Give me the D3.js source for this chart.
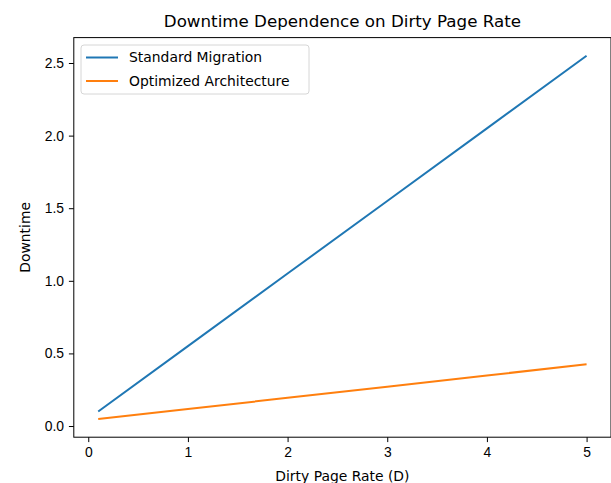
<!DOCTYPE html>
<html>
<head>
<meta charset="utf-8">
<script src="https://cdn.jsdelivr.net/npm/d3@7"></script>
<style>
  body { margin: 0; background: #fff; }
  svg { font-family: "DejaVu Sans", sans-serif; }
  .tick text { font-size: 13.9px; fill: #000; }
  .tick line, .domain { stroke: #000; }
</style>
</head>
<body>
<svg class="downtime" width="611" height="483"></svg>
<script>
// dirty page rate samples and downtime
var rates = [0.1, 1, 2, 3, 4, 5];
var standardMigration = [0.1, 0.55, 1.05, 1.55, 2.05, 2.55];
var optimizedArchitecture = [0.048, 0.117, 0.194, 0.271, 0.348, 0.425];
var seriesNames = ["Standard Migration", "Optimized Architecture"];
var xTicks = [0, 1, 2, 3, 4, 5];
var yTicks = [0, 0.5, 1, 1.5, 2, 2.5];

var margin = {top: 37.6, bottom: 45.8, left: 73.8, right: 0},
    width = 611 - margin.left - margin.right,
    height = 483 - margin.top - margin.bottom;

var colors = ["#1f77b4", "#ff7f0e"];

var svg = d3.select(".downtime");
var g = svg.append("g")
    .attr("transform", "translate(" + margin.left + "," + margin.top + ")");

var x = d3.scaleLinear().domain([-0.145, 5.245]).range([0, width]);
var y = d3.scaleLinear().domain([-0.077, 2.675]).range([height, 0]);

var line = d3.line()
    .x(function(d) { return x(d[0]); })
    .y(function(d) { return y(d[1]); });

[standardMigration, optimizedArchitecture].forEach(function(vals, i) {
  g.append("path")
      .datum(rates.map(function(r, j) { return [r, vals[j]]; }))
      .attr("fill", "none")
      .attr("stroke", colors[i])
      .attr("stroke-width", 2)
      .attr("d", line);
});

g.append("g")
    .attr("transform", "translate(0," + height + ")")
    .call(d3.axisBottom(x).tickValues(xTicks).tickSize(4.9).tickPadding(4.9)
      .tickFormat(d3.format("d")))
    .call(function(a) { a.select(".domain").remove(); });

g.append("g")
    .call(d3.axisLeft(y).tickValues(yTicks).tickSize(4.9).tickPadding(4.9)
      .tickFormat(d3.format(".1f")))
    .call(function(a) { a.select(".domain").remove(); });

// frame
g.append("rect")
    .attr("width", width)
    .attr("height", height)
    .attr("fill", "none")
    .attr("stroke", "#000")
    .attr("stroke-width", 1);

svg.append("text")
    .attr("x", margin.left + width / 2)
    .attr("y", 27)
    .attr("text-anchor", "middle")
    .style("font-size", "16.7px")
    .text("Downtime Dependence on Dirty Page Rate");

svg.append("text")
    .attr("x", margin.left + width / 2)
    .attr("y", 481)
    .attr("text-anchor", "middle")
    .style("font-size", "13.9px")
    .text("Dirty Page Rate (D)");

svg.append("text")
    .attr("transform", "translate(30," + (margin.top + height / 2) + ") rotate(-90)")
    .attr("text-anchor", "middle")
    .style("font-size", "13.9px")
    .text("Downtime");

// legend
var legend = svg.append("g").attr("transform", "translate(81,45)");
legend.append("rect")
    .attr("width", 228)
    .attr("height", 49)
    .attr("rx", 3)
    .attr("fill", "#fff")
    .attr("fill-opacity", 0.8)
    .attr("stroke", "#d6d6d6");

seriesNames.forEach(function(name, i) {
  var row = legend.append("g").attr("transform", "translate(0," + (12.5 + i * 23.5) + ")");
  row.append("line")
      .attr("x1", 5).attr("x2", 37)
      .attr("stroke", colors[i])
      .attr("stroke-width", 2);
  row.append("text")
      .attr("x", 48)
      .attr("dy", "0.35em")
      .style("font-size", "13.9px")
      .text(name);
});
</script>
</body>
</html>
